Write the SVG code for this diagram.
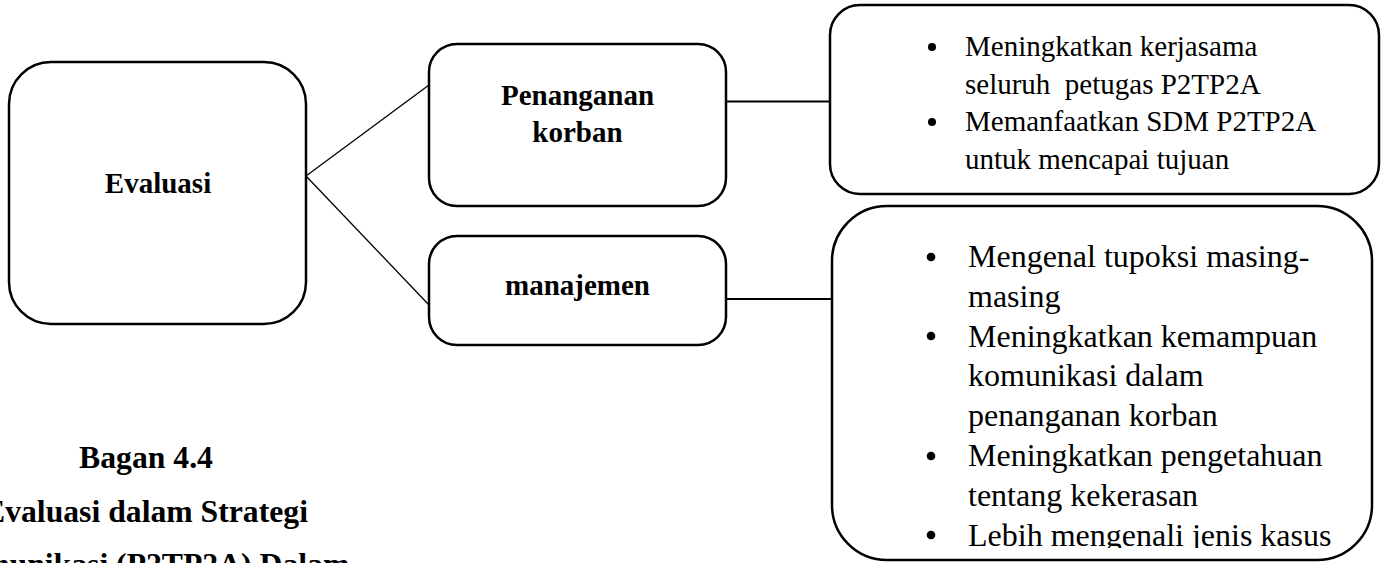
<svg xmlns="http://www.w3.org/2000/svg" width="1383" height="563" viewBox="0 0 1383 563">
<style>
.box{fill:#fff;stroke:#000;stroke-width:2.5}
.t{font-family:"Liberation Serif","Times New Roman",serif;fill:#000}
.b{font-weight:bold;font-size:29px;text-anchor:middle}
.s1{font-size:29px}
.s2{font-size:32px}
.cap{font-weight:bold;font-size:31.7px;text-anchor:middle}
.diag{stroke:#000;stroke-width:1.3;fill:none}
.hz{stroke:#000;stroke-width:2;fill:none}
</style>
<defs>
<clipPath id="clip2"><rect x="832" y="206" width="540" height="342"/></clipPath>
</defs>
<rect width="1383" height="563" fill="#fff"/>
<g id="connectors">
<line class="diag" x1="306" y1="176" x2="429" y2="85"/>
<line class="diag" x1="306" y1="176" x2="429" y2="305"/>
<line class="hz" x1="726" y1="101.5" x2="830" y2="101.5"/>
<line class="hz" x1="726" y1="299" x2="832" y2="299"/>
</g>
<g id="evaluasi">
<rect class="box" x="9" y="62" width="297" height="262" rx="42"/>
<text class="t b" x="158" y="193">Evaluasi</text>
</g>
<g id="penanganan">
<rect class="box" x="429" y="44" width="297" height="162" rx="28"/>
<text class="t b" x="577.5" y="105">Penanganan</text>
<text class="t b" x="577.5" y="141.5">korban</text>
</g>
<g id="manajemen">
<rect class="box" x="429" y="236" width="297" height="109" rx="28"/>
<text class="t b" x="577.5" y="295">manajemen</text>
</g>
<g id="list1">
<rect class="box" x="830" y="5" width="549" height="189" rx="30"/>
<circle cx="932" cy="47" r="4"/>
<circle cx="932" cy="122" r="4"/>
<text class="t s1" x="965" y="56">Meningkatkan kerjasama</text>
<text class="t s1" x="965" y="93.5" xml:space="preserve">seluruh  petugas P2TP2A</text>
<text class="t s1" x="965" y="131">Memanfaatkan SDM P2TP2A</text>
<text class="t s1" x="965" y="168.5">untuk mencapai tujuan</text>
</g>
<g id="list2">
<rect class="box" x="832" y="206" width="540" height="354" rx="55"/>
<g clip-path="url(#clip2)">
<circle cx="931" cy="257" r="4.3"/>
<circle cx="931" cy="336" r="4.3"/>
<circle cx="931" cy="456" r="4.3"/>
<circle cx="931" cy="535" r="4.3"/>
<text class="t s2" x="968" y="267">Mengenal tupoksi masing-</text>
<text class="t s2" x="968" y="306.8">masing</text>
<text class="t s2" x="968" y="346.6">Meningkatkan kemampuan</text>
<text class="t s2" x="968" y="386.4">komunikasi dalam</text>
<text class="t s2" x="968" y="426.2">penanganan korban</text>
<text class="t s2" x="968" y="466">Meningkatkan pengetahuan</text>
<text class="t s2" x="968" y="505.8">tentang kekerasan</text>
<text class="t s2" x="968" y="545.6">Lebih mengenali jenis kasus</text>
</g>
</g>
<g id="caption">
<text class="t cap" x="146" y="468">Bagan 4.4</text>
<text class="t cap" x="146" y="521.7">Evaluasi dalam Strategi</text>
<text class="t cap" x="146" y="575">Komunikasi (P2TP2A) Dalam</text>
</g>
</svg>
